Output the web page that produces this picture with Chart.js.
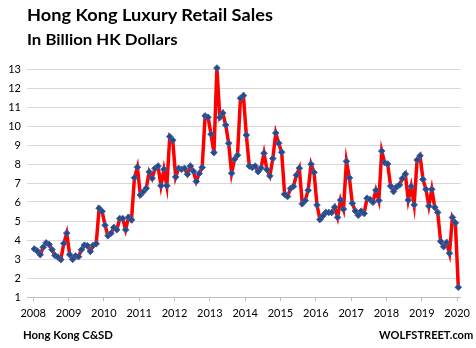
<!DOCTYPE html>
<html>
<head>
<meta charset="utf-8">
<script src="https://cdn.jsdelivr.net/npm/chart.js@4.4.1/dist/chart.umd.min.js"></script>
<style>
  html, body { margin: 0; padding: 0; background: #fff; }
  #wrap { position: relative; width: 476px; height: 348px; overflow: hidden; }
  #chart { position: absolute; left: 0; top: 0; }
  .txt { position: absolute; display: inline-block; font-family: 'Lato', sans-serif; font-weight: bold;
         color: #000; white-space: nowrap; line-height: 1; transform-origin: 0 0; }
</style>
</head>
<body>
<div id="wrap">
  <canvas id="chart" width="476" height="348"></canvas>
  <div class="txt" data-w="246" style="left:27px; top:6px; font-size:17px;">Hong Kong Luxury Retail Sales</div>
  <div class="txt" data-w="151" style="left:27px; top:31px; font-size:16px;">In Billion HK Dollars</div>
  <div class="txt" data-w="90" style="left:23px; top:329px; font-size:12px;">Hong Kong C&amp;SD</div>
  <div class="txt" data-w="94" style="left:379px; top:329px; font-size:12px;">WOLFSTREET.com</div>
</div>
<script>
// monthly, Jan 2008 .. Jan 2020
const years = ['2008', '2009', '2010', '2011', '2012', '2013', '2014', '2015', '2016', '2017', '2018', '2019', '2020'];
const sales = [
  3.53, 3.42, 3.23, 3.62, 3.85, 3.77, 3.49, 3.19, 3.10, 2.97,
  3.82, 4.36, 3.23, 2.98, 3.16, 3.12, 3.49, 3.73, 3.70, 3.40,
  3.72, 3.80, 5.67, 5.51, 4.78, 4.22, 4.35, 4.66, 4.54, 5.13,
  5.13, 4.54, 5.20, 5.06, 7.28, 7.83, 6.37, 6.54, 6.72, 7.58,
  7.25, 7.77, 7.89, 6.86, 7.72, 6.86, 9.44, 9.25, 7.32, 7.77,
  7.72, 7.77, 7.46, 7.89, 7.62, 7.08, 7.50, 7.82, 10.53, 10.46,
  9.57, 8.60, 13.05, 10.45, 10.68, 10.05, 9.09, 7.51, 8.25, 8.46,
  11.46, 11.60, 9.52, 7.89, 7.82, 7.89, 7.60, 7.79, 8.57, 7.70,
  7.37, 8.29, 9.63, 9.09, 8.62, 6.41, 6.29, 6.71, 6.82, 7.41,
  7.78, 5.91, 6.08, 6.62, 7.99, 7.56, 5.84, 5.08, 5.27, 5.45,
  5.45, 5.45, 5.73, 5.19, 6.10, 5.62, 8.14, 7.27, 5.93, 5.53,
  5.30, 5.52, 5.40, 6.20, 6.13, 5.99, 6.62, 6.08, 8.68, 8.07,
  8.00, 6.84, 6.55, 6.79, 6.90, 7.24, 7.47, 6.10, 6.82, 5.85,
  8.21, 8.43, 7.19, 6.67, 5.79, 6.67, 5.72, 5.45, 3.93, 3.65,
  3.87, 3.30, 5.19, 4.90, 1.51
];
const yTicks = [1, 13];

const tickFont = { family: 'Lato', size: 11 };

new Chart(document.getElementById('chart'), {
  type: 'line',
  data: {
    datasets: [{
      data: sales.map((v, i) => ({ x: i, y: v })),
      borderColor: '#ff0000',
      borderWidth: 3.5,
      tension: 0,
      pointStyle: 'rectRot',
      pointRadius: 3.3,
      pointBackgroundColor: '#284a86',
      pointBorderColor: '#3d64a8',
      pointBorderWidth: 1,
      clip: false
    }]
  },
  options: {
    responsive: false,
    animation: false,
    devicePixelRatio: 1,
    layout: { padding: { top: 69, right: 13, bottom: 23, left: 0 } },
    plugins: { legend: { display: false }, tooltip: { enabled: false } },
    scales: {
      x: {
        type: 'linear',
        min: -2.5,
        max: 144.8,
        afterBuildTicks: s => { s.ticks = years.map((y, k) => ({ value: k * 12 - 0.4 })); },
        afterFit: s => { s.height = 28; },
        ticks: { callback: (v, i) => years[i], font: tickFont, color: '#000', padding: 6, maxRotation: 0, autoSkip: false },
        grid: { drawOnChartArea: false, tickLength: 4, color: '#bfbfbf' },
        border: { color: '#bfbfbf' }
      },
      y: {
        min: yTicks[0],
        max: yTicks[1],
        afterFit: s => { s.width = 27; },
        ticks: { stepSize: 1, font: tickFont, color: '#000', padding: 6 },
        grid: { color: '#d9d9d9', drawTicks: false },
        border: { display: false }
      }
    }
  }
});

// squeeze the label texts to the widths they have in the picture
document.querySelectorAll('.txt').forEach(el => {
  const w = +el.dataset.w;
  el.style.transform = 'scaleX(' + (w / el.offsetWidth) + ')';
});
</script>
</body>
</html>
